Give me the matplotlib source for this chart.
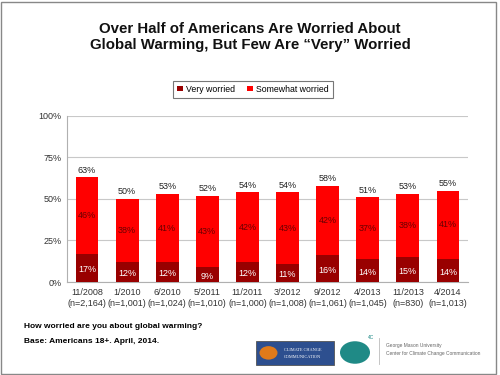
import matplotlib.pyplot as plt
from matplotlib.patches import Rectangle, Circle
import numpy as np

# survey waves
waves = ['11/2008', '1/2010', '6/2010', '5/2011', '11/2011',
         '3/2012', '9/2012', '4/2013', '11/2013', '4/2014']
sizes = ['2,164', '1,001', '1,024', '1,010', '1,000',
         '1,008', '1,061', '1,045', '830', '1,013']
very = [17, 12, 12, 9, 12, 11, 16, 14, 15, 14]
somewhat = [46, 38, 41, 43, 42, 43, 42, 37, 38, 41]
total = [63, 50, 53, 52, 54, 54, 58, 51, 53, 55]

dark = '#990000'
bright = '#ff0000'

plt.rcParams['font.family'] = ['Liberation Sans', 'DejaVu Sans']

fig = plt.figure(figsize=(5, 3.75), dpi=100)
ax = fig.add_axes([0.134, 0.248, 0.802, 0.443])

x = np.arange(len(waves))
b1 = ax.bar(x, very, width=0.57, color=dark, label='Very worried', zorder=3)
b2 = ax.bar(x, somewhat, width=0.57, bottom=very, color=bright,
            label='Somewhat worried', zorder=3)

for i in range(len(waves)):
    ax.text(x[i], very[i] / 2 - 1, f'{very[i]}%', ha='center', va='center',
            color='white', fontsize=6.5, zorder=4)
    ax.text(x[i], very[i] + somewhat[i] / 2, f'{somewhat[i]}%', ha='center',
            va='center', color='#6a0000', fontsize=6.5, zorder=4)
    ax.text(x[i], total[i] + 1.5, f'{total[i]}%', ha='center', va='bottom',
            color='#222222', fontsize=6.5, zorder=4)

ax.set_xlim(-0.5, len(waves) - 0.5)
ax.set_ylim(0, 100)
ax.set_yticks([0, 25, 50, 75, 100])
ax.set_yticklabels(['0%', '25%', '50%', '75%', '100%'], fontsize=6.5, color='#333333')
ax.set_xticks(x)
ax.set_xticklabels([f'{w}\n(n={n})' for w, n in zip(waves, sizes)],
                   fontsize=6.5, color='#333333', linespacing=1.3)
ax.tick_params(axis='both', length=0, pad=4)
ax.grid(axis='y', color='#c8c8c8', linewidth=0.8, zorder=0)
for s in ['top', 'right']:
    ax.spines[s].set_visible(False)
for s in ['left', 'bottom']:
    ax.spines[s].set_color('#b0b0b0')

leg = fig.legend(handles=[b1, b2], loc='center', bbox_to_anchor=(0.506, 0.762),
                 ncol=2, fontsize=6.3, frameon=True, fancybox=False,
                 handlelength=0.6, handleheight=0.6, handletextpad=0.4,
                 columnspacing=1.4, borderpad=0.45)
leg.get_frame().set_edgecolor('#555555')
leg.get_frame().set_linewidth(0.8)

fig.text(0.5, 0.901, 'Over Half of Americans Are Worried About\nGlobal Warming, But Few Are \u201cVery\u201d Worried',
         ha='center', va='center', fontsize=10.8, fontweight='bold',
         color='#111111', linespacing=1.25)

fig.text(0.048, 0.13, 'How worried are you about global warming?',
         fontsize=6, fontweight='bold', va='center')
fig.text(0.048, 0.09, 'Base: Americans 18+. April, 2014.',
         fontsize=6, fontweight='bold', va='center')

# logos at the bottom
fig.patches.append(Rectangle((0.512, 0.028), 0.155, 0.062, transform=fig.transFigure,
                             facecolor='#2d4f8f', edgecolor='#555555', linewidth=0.6))
fig.patches.append(Circle((0.537, 0.059), 0.018, transform=fig.transFigure,
                          facecolor='#e07a1a', edgecolor='none'))
fig.text(0.606, 0.066, 'CLIMATE CHANGE', fontsize=3.2, color='white',
         ha='center', va='center', family='Liberation Serif')
fig.text(0.606, 0.048, 'COMMUNICATION', fontsize=3.2, color='white',
         ha='center', va='center', family='Liberation Serif')
fig.patches.append(Circle((0.71, 0.06), 0.03, transform=fig.transFigure,
                          facecolor='#1f8a86', edgecolor='none'))
fig.text(0.742, 0.1, '4C', fontsize=3.5, color='#1f8a86', ha='center', va='center')
fig.lines.append(plt.Line2D([0.757, 0.757], [0.03, 0.1], transform=fig.transFigure,
                            color='#bbbbbb', linewidth=0.6))
fig.text(0.772, 0.08, 'George Mason University', fontsize=3.5, color='#666666', va='center')
fig.text(0.772, 0.057, 'Center for Climate Change Communication', fontsize=3.5,
         color='#666666', va='center')

# slide frame
fig.patches.append(Rectangle((0.002, 0.004), 0.99, 0.99, transform=fig.transFigure,
                             facecolor='none', edgecolor='#888888', linewidth=1))

fig.savefig('out.png', dpi=100)
